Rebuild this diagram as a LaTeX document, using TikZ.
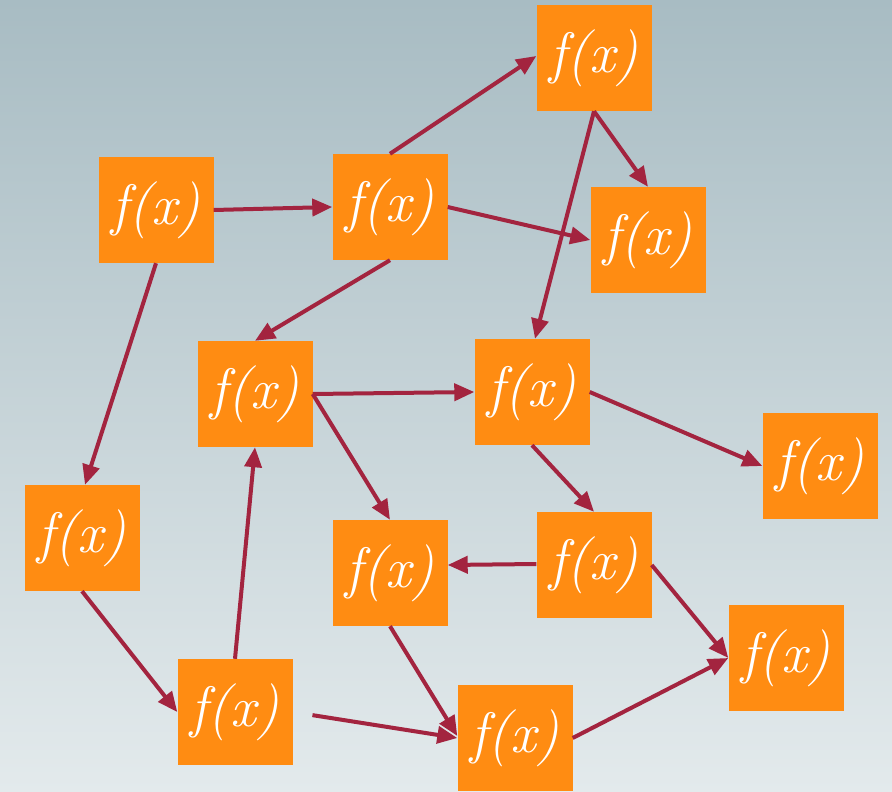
\documentclass[tikz,border=0pt]{standalone}
\usetikzlibrary{arrows.meta}
\definecolor{fnorange}{HTML}{FF8C12}
\definecolor{arrowred}{HTML}{A3243F}
\definecolor{bgtop}{HTML}{A8BCC3}
\definecolor{bgbot}{HTML}{E3EAEC}
\begin{document}
\begin{tikzpicture}[x=1pt,y=-1pt,
  fnbox/.style={fill=fnorange, minimum width=115pt, minimum height=106pt,
    inner sep=0pt, text=white, font=\fontsize{57}{60}\selectfont\itshape},
  conn/.style={draw=arrowred, line width=4pt, -{Triangle[length=20pt,width=17pt]}}]

% background
\fill[top color=bgtop, bottom color=bgbot] (0,0) rectangle (892,792);
\useasboundingbox (0,0) rectangle (892,792);

% function boxes
\node[fnbox] (a) at (156,210) {f(x)};
\node[fnbox] (b) at (390,207) {f(x)};
\node[fnbox] (c) at (594,58)  {f(x)};
\node[fnbox] (d) at (648,240) {f(x)};
\node[fnbox] (e) at (255,394) {f(x)};
\node[fnbox] (f) at (532,392) {f(x)};
\node[fnbox] (g) at (820,466) {f(x)};
\node[fnbox] (h) at (82,538)  {f(x)};
\node[fnbox] (i) at (390,573) {f(x)};
\node[fnbox] (j) at (594,565) {f(x)};
\node[fnbox] (k) at (235,712) {f(x)};
\node[fnbox] (l) at (786,658) {f(x)};
\node[fnbox] (m) at (515,738) {f(x)};

% connections
\draw[conn] (a.east) -- (b.west);
\draw[conn] (a.south) -- ([xshift=3pt]h.north);
\draw[conn] (b.north) -- ([yshift=2pt]c.west);
\draw[conn] (b.east) -- (d.west);
\draw[conn] (b.south) -- (e.north);
\draw[conn] (c.south) -- (d.north);
\draw[conn] (c.south) -- ([xshift=3pt]f.north);
\draw[conn] (e.east) -- (f.west);
\draw[conn] (e.east) -- (i.north);
\draw[conn] (f.east) -- (g.west);
\draw[conn] (f.south) -- (j.north);
\draw[conn] ([yshift=1pt]j.west) -- ([yshift=8pt]i.east);
\draw[conn] (j.east) -- (l.west);
\draw[conn] (h.south) -- (k.west);
\draw[conn] (k.north) -- (e.south);
\draw[conn, shorten <=20pt] (k.east) -- (m.west);
\draw[conn] (i.south) -- ([yshift=2pt]m.west);
\draw[conn] (m.east) -- (l.west);
\end{tikzpicture}
\end{document}
